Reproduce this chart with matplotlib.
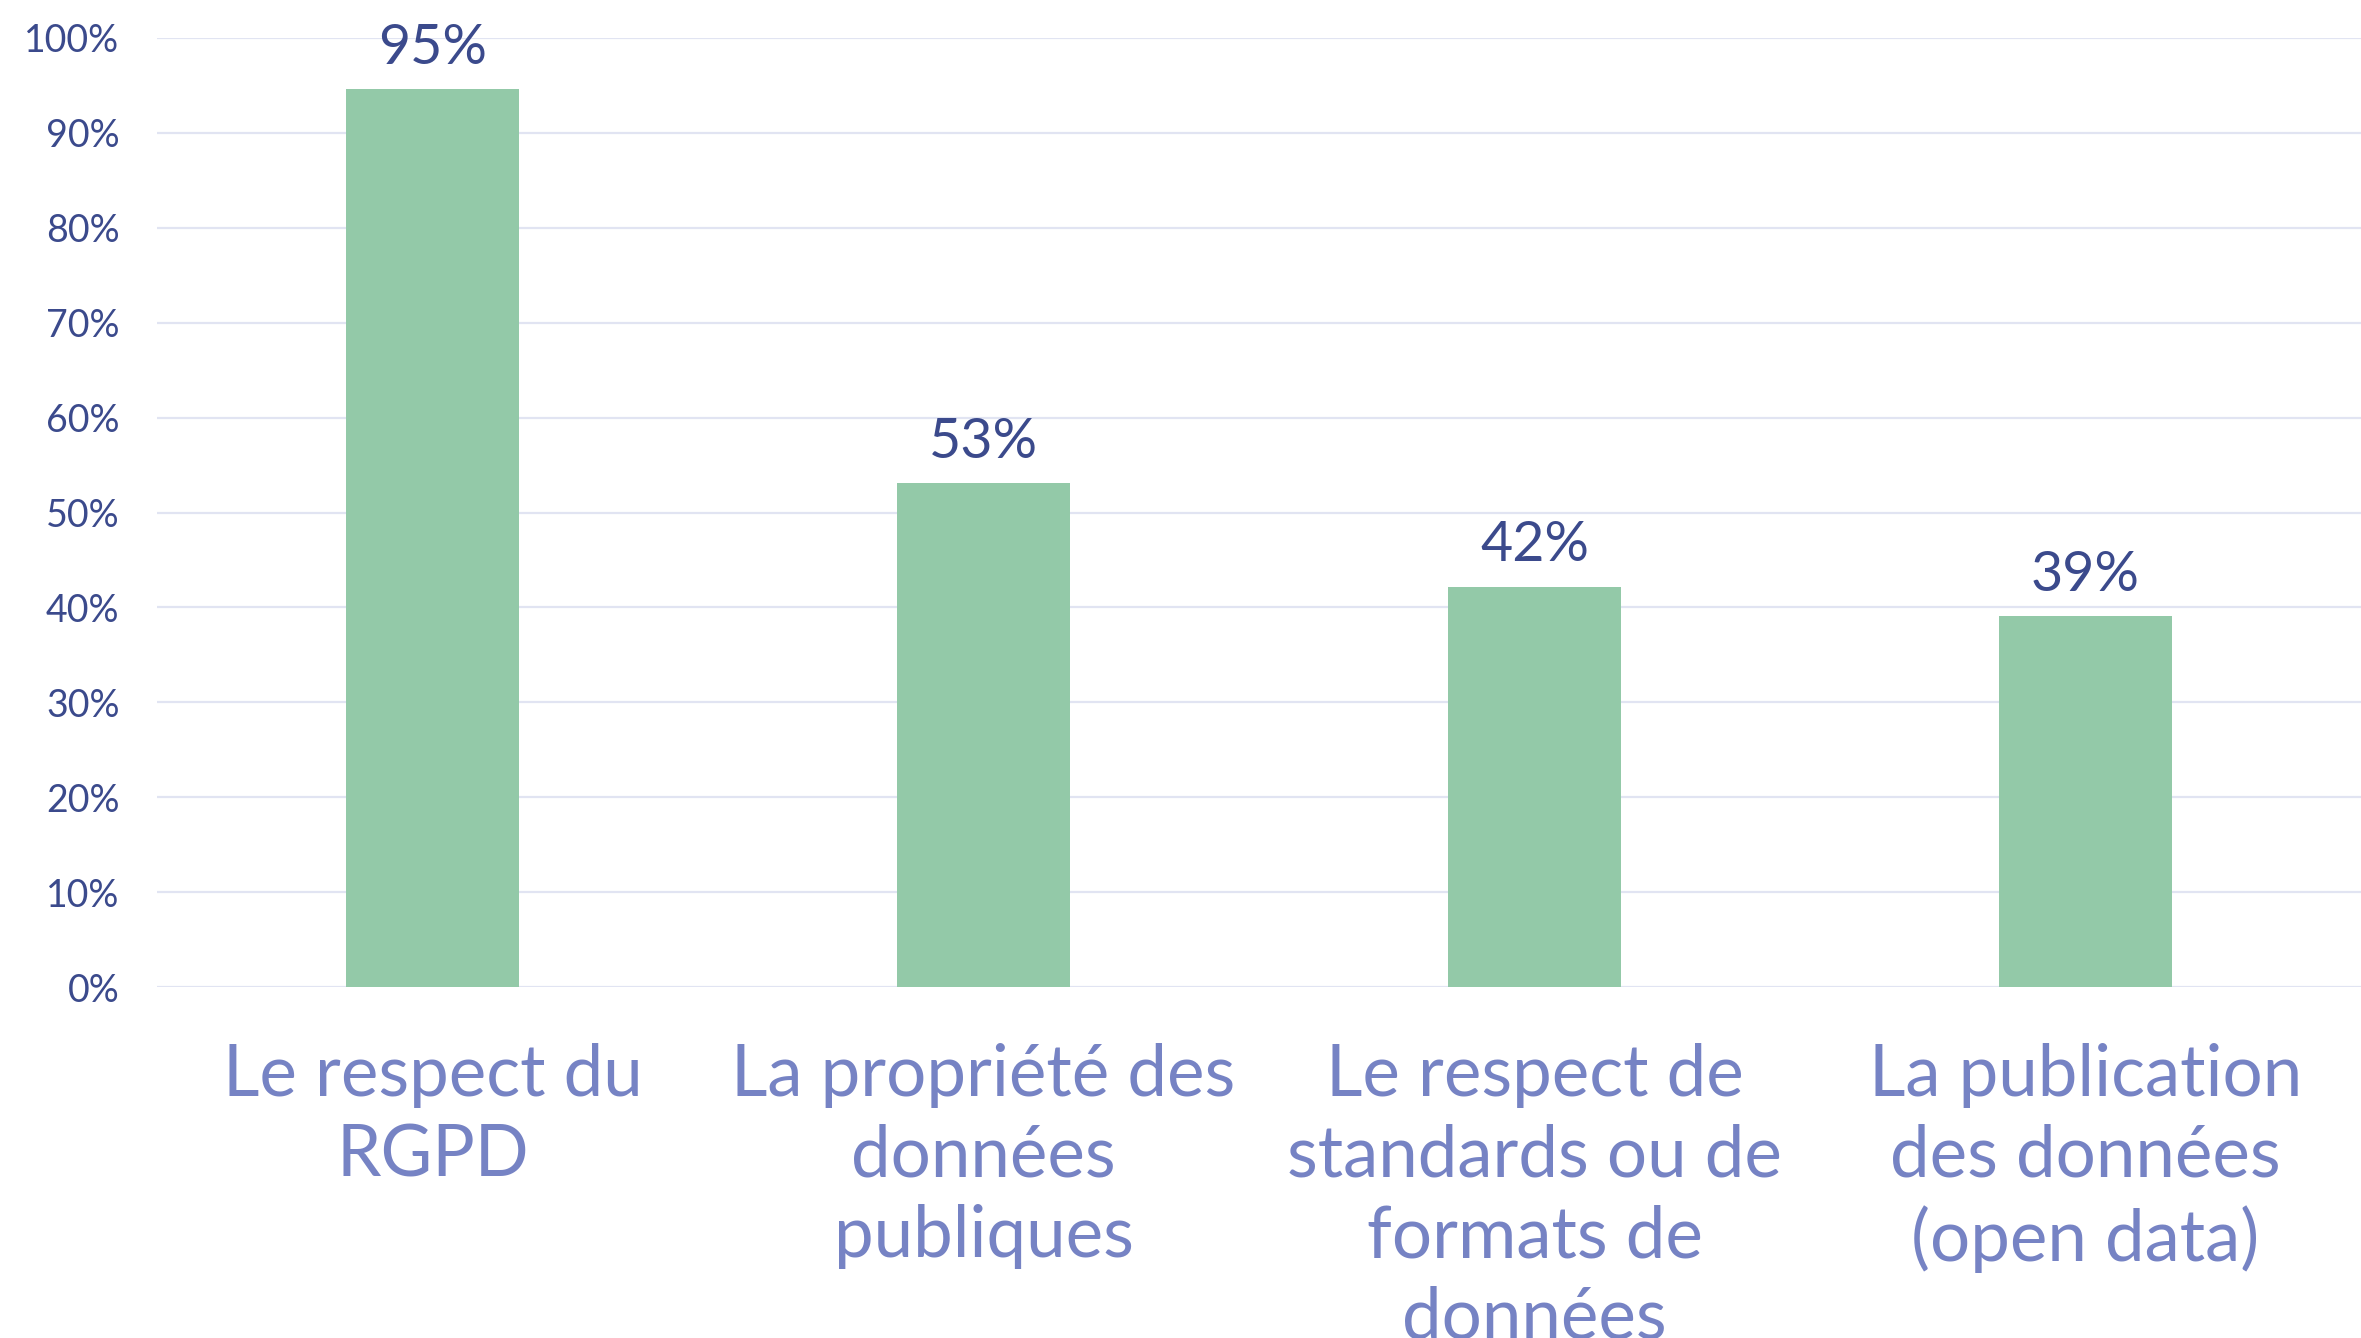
import matplotlib
matplotlib.use("Agg")
import matplotlib.pyplot as plt

categories = [
    "Le respect du\nRGPD",
    "La propriété des\ndonnées\npubliques",
    "Le respect de\nstandards ou de\nformats de\ndonnées",
    "La publication\ndes données\n(open data)",
]
values = [94.6, 53.1, 42.2, 39.1]
yticks = [0, 10, 20, 30, 40, 50, 60, 70, 80, 90, 100]

plt.rcParams['font.family'] = ['Lato', 'DejaVu Sans']

fig = plt.figure(figsize=(23.61, 13.38), dpi=100)
ax = fig.add_axes([0.0665, 0.2623, 0.9335, 0.7093])

x = range(len(categories))
bars = ax.bar(x, values, width=0.315, color='#93c9a8', zorder=3)

for rect, v in zip(bars, values):
    ax.annotate(f"{round(v)}%", (rect.get_x() + rect.get_width() / 2, v),
                xytext=(0, 11), textcoords='offset points',
                ha='center', va='bottom', fontsize=40, color='#3b4a8c')

ax.set_xlim(-0.5, 3.5)
ax.set_ylim(0, 100)
ax.set_yticks(yticks)
ax.set_yticklabels([f"{t}%" for t in yticks], fontsize=27, color='#3b4a8c')
ax.set_xticks(list(x))
ax.set_xticklabels(categories, fontsize=51, color='#7683c4', linespacing=1.3)
ax.tick_params(axis='y', length=0, pad=27)
ax.tick_params(axis='x', length=0, pad=40)

ax.grid(axis='y', color='#e1e4f2', linewidth=1.6, zorder=0)
for s in ax.spines.values():
    s.set_visible(False)

fig.savefig("out.png", dpi=100)
